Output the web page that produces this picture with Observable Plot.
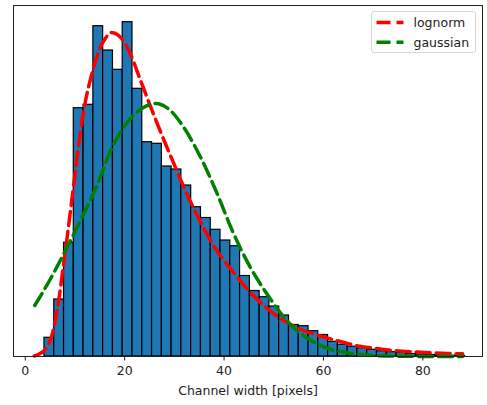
<!DOCTYPE html>
<html>
<head>
<meta charset="utf-8">
<script src="https://cdn.jsdelivr.net/npm/d3@7"></script>
<script src="https://cdn.jsdelivr.net/npm/@observablehq/plot@0.6"></script>
<style>
  html, body { margin: 0; padding: 0; background: #fff; }
  #wrap { position: relative; width: 487px; height: 405px; font-family: "DejaVu Sans", sans-serif; }
  #legend { position: absolute; left: 371px; top: 11px; width: 105px; height: 42px;
            box-sizing: border-box; border: 1px solid #d6d6d6; border-radius: 3px;
            background: rgba(255,255,255,0.85); }
  #legend svg { display: block; }
</style>
</head>
<body>
<div id="wrap"></div>
<script>
// Histogram bin edges (channel width, pixels) and bar heights (relative counts)
const binEdges = [3.86, 5.83, 7.80, 9.76, 11.73, 13.70, 15.67, 17.64, 19.60, 21.57,
  23.54, 25.51, 27.48, 29.44, 31.41, 33.38, 35.35, 37.32, 39.28, 41.25,
  43.22, 45.19, 47.16, 49.12, 51.09, 53.06, 55.03, 57.00, 58.96, 60.93,
  62.90, 64.87, 66.84, 68.80, 70.77, 72.74, 74.71, 76.68, 78.64, 80.61,
  82.58, 84.55, 86.52, 88.48];
const binHeights = [18.7, 57, 113.7, 248.3, 251.7, 330.3, 306, 286.7, 334.3, 267.7,
  214.3, 212.7, 190, 187, 171, 149.3, 138.5, 126.7, 116, 110.3,
  80.5, 65.5, 59.3, 50, 41, 31.5, 30.3, 25.3, 21.5, 14.7,
  11.8, 9.8, 8.2, 6.7, 5.3, 4.3, 3.5, 2.5, 2, 1.5,
  1.2, 0.8, 0.6];

// Fitted lognormal curve
const lognormX = [1.8, 2.8, 3.7, 4.5, 5.3, 6.1, 6.9, 7.7, 8.5, 9.3, 10.1, 11.1, 12.1, 13.1, 14.1,
  15.1, 16.1, 17.3, 18.5, 19.7, 21.2, 23.2, 25.2, 27.6, 29.8, 32.2, 34.9, 38.0, 41.9, 45.3,
  48.7, 52.0, 55.5, 59.0, 63.4, 67.0, 70.5, 74.0, 78.0, 82.0, 85.0, 88.0];
const lognormY = [0.5, 2.5, 5.5, 11, 20, 38, 62, 92, 122, 154, 186, 225, 255, 277, 295,
  309, 318, 324, 322, 316, 302, 276, 250, 220, 194, 166, 138, 110, 84, 64,
  48, 36, 27, 21, 15, 10.5, 8, 6, 4.6, 3.6, 3.1, 2.7];

// Fitted gaussian curve
const gaussX = [1.9, 5, 8.4, 11.8, 14.5, 17.1, 20.5, 23.8, 26.2, 29.2, 31.9, 35.3, 38.6, 41.9,
  45.3, 48.7, 51.3, 54, 56.7, 60.7, 65.4, 70.1, 75, 80, 88];
const gaussY = [51, 77, 109, 143, 172, 205, 234, 249, 253, 246, 229, 199, 163, 123,
  89, 62, 44, 29, 18.5, 8.5, 3.2, 1.1, 0.3, 0.1, 0];

const xTicks = [0, 20, 40, 60, 80];
const seriesNames = ["lognorm", "gaussian"];
const seriesColors = ["#ff0000", "#008000"];
const xLabel = "Channel width [pixels]";

const bins = binHeights.map((h, i) => ({x1: binEdges[i], x2: binEdges[i + 1], y: h}));
const lognorm = lognormX.map((x, i) => ({x, y: lognormY[i]}));
const gauss = gaussX.map((x, i) => ({x, y: gaussY[i]}));

const chart = Plot.plot({
  width: 487,
  height: 405,
  marginLeft: 13,
  marginRight: 5,
  marginTop: 5,
  marginBottom: 49,
  style: {fontFamily: "DejaVu Sans, sans-serif", fontSize: "12.5px", color: "#222", background: "#fff"},
  x: {domain: [-2.37, 92.0]},
  y: {domain: [0, 351], axis: null},
  marks: [
    Plot.rectY(bins, {x1: "x1", x2: "x2", y: "y", fill: "#1f77b4", stroke: "#000", strokeWidth: 1.2}),
    Plot.line(lognorm, {x: "x", y: "y", stroke: seriesColors[0], strokeWidth: 3.5,
      strokeDasharray: "14,6", curve: "monotone-x"}),
    Plot.line(gauss, {x: "x", y: "y", stroke: seriesColors[1], strokeWidth: 3.5,
      strokeDasharray: "14,6", curve: "monotone-x"}),
    Plot.frame({stroke: "#222", strokeWidth: 1}),
    Plot.axisX({ticks: xTicks, tickSize: 4.5, tickPadding: 5.5, fontSize: 12.5,
      label: xLabel, labelAnchor: "center", labelArrow: "none", labelOffset: 38})
  ]
});

const wrap = document.getElementById("wrap");
wrap.appendChild(chart);

// Legend (inside the axes, upper right)
const legend = document.createElement("div");
legend.id = "legend";
const ns = "http://www.w3.org/2000/svg";
const svg = document.createElementNS(ns, "svg");
svg.setAttribute("width", 103);
svg.setAttribute("height", 40);
seriesNames.forEach((name, i) => {
  const cy = 10.5 + i * 19.7;
  const ln = document.createElementNS(ns, "line");
  ln.setAttribute("x1", 4.5); ln.setAttribute("x2", 31.5);
  ln.setAttribute("y1", cy); ln.setAttribute("y2", cy);
  ln.setAttribute("stroke", seriesColors[i]);
  ln.setAttribute("stroke-width", 3.5);
  ln.setAttribute("stroke-dasharray", "14,6");
  svg.appendChild(ln);
  const t = document.createElementNS(ns, "text");
  t.setAttribute("x", 41.5);
  t.setAttribute("y", cy);
  t.setAttribute("dy", "0.35em");
  t.setAttribute("font-size", "12.5px");
  t.setAttribute("font-family", "DejaVu Sans, sans-serif");
  t.setAttribute("fill", "#222");
  t.textContent = name;
  svg.appendChild(t);
});
legend.appendChild(svg);
wrap.appendChild(legend);
</script>
</body>
</html>
